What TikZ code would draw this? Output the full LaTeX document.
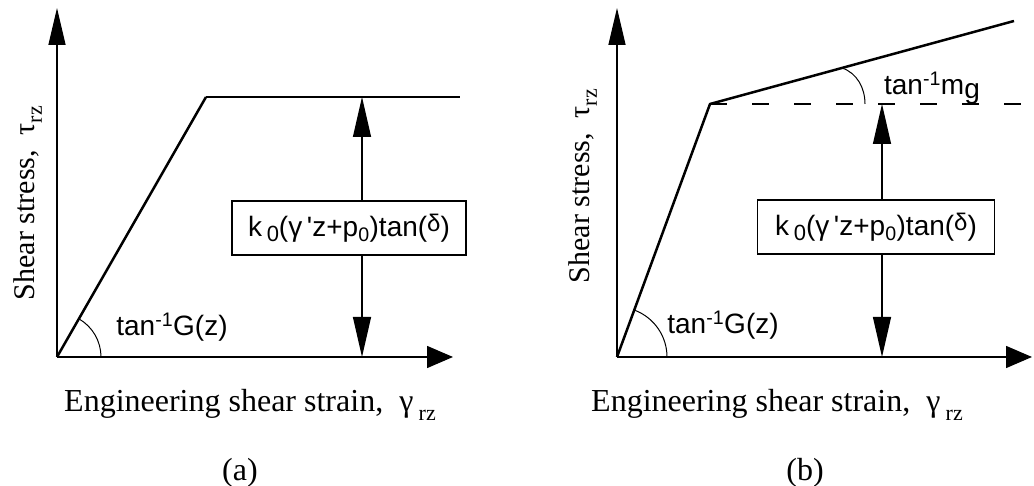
\documentclass[tikz,border=0pt]{standalone}
\usepackage{fontspec}
\setmainfont{Liberation Serif}
\newfontfamily\boxfont{Liberation Sans}
\usetikzlibrary{arrows.meta}

\begin{document}
\begin{tikzpicture}[x=1pt, y=1pt, >={Triangle[length=37pt, width=17pt]},
    axis/.style={line width=1.5pt},
    law/.style={line width=2.5pt, line join=round},
    valbox/.style={draw, line width=1.4pt, minimum height=54pt, inner sep=0pt,
      font=\boxfont\fontsize{28}{32}\selectfont},
    dim/.style={line width=1.3pt, -{Triangle[length=40pt, width=18pt]}},
    xtip/.style={-{Triangle[length=26pt, width=22pt]}},
    lbl/.style={font=\fontsize{32}{36}\selectfont},
    ylbl/.style={rotate=90, font=\fontsize{30}{34}\selectfont},
    ang/.style={font=\boxfont\fontsize{28}{32}\selectfont}]
    \useasboundingbox (0,0) rectangle (1034,486);

    % (a) elastic - perfectly plastic
    \coordinate (Oa) at (57,129);
    \coordinate (Ya) at (57,478);
    \coordinate (Xa) at (453,129);
    \coordinate (Ka) at (206,389);
    \coordinate (Ea) at (460,389);
    \coordinate (Ta) at (362,389);
    \coordinate (Ba) at (362,129);

    % axes
    \draw[axis, ->] (Oa) -- (Ya);
    \draw[axis, xtip] (Oa) -- (Xa);

    % stress-strain law
    \draw[law] (Oa) -- (Ka);
    \draw[line width=1.8pt] (Ka) -- (Ea);

    % yield stress
    \node[valbox, minimum width=234pt] (boxa) at (349,258)
      {k\,\raisebox{-0.35ex}{\fontsize{22}{22}\selectfont 0}(γ\,'z+p\textsubscript{0})tan(\raisebox{0.3ex}{\fontsize{24}{24}\selectfont δ})};
    \draw[dim] (boxa.north -| Ta) -- (Ta);
    \draw[dim] (boxa.south -| Ba) -- (Ba);

    % initial slope
    \draw[line width=1pt] (Oa) ++(44,0) arc[start angle=0, end angle=60, radius=44];
    \node[ang] (ga) at (172,159) {tan\textsuperscript{-1}G(z)};

    % labels
    \node[ylbl] (ya) at (28,283)
      {Shear stress, \ τ\raisebox{-0.5ex}{\fontsize{22}{22}\selectfont rz}};
    \node[lbl] (xa) at (250,81)
      {Engineering shear strain, \ γ\,\raisebox{-0.6ex}{\fontsize{22}{22}\selectfont rz}};
    \node[lbl] (capa) at (240,13) {(a)};

    % (b) elastic - hardening
    \coordinate (Ob) at (617,129);
    \coordinate (Yb) at (617,478);
    \coordinate (Xb) at (1032,129);
    \coordinate (Kb) at (710,382);
    \coordinate (Eb) at (1014,465);
    \coordinate (Db) at (1023,382);
    \coordinate (Tb) at (882,382);
    \coordinate (Bb) at (882,129);

    % axes
    \draw[axis, ->] (Ob) -- (Yb);
    \draw[axis, xtip] (Ob) -- (Xb);

    % stress-strain law
    \draw[law] (Ob) -- (Kb) -- (Eb);
    \draw[line width=1.3pt, dash pattern=on 17pt off 25pt] (Kb) -- (Db);

    % yield stress
    \node[valbox, minimum width=237pt] (boxb) at (876,259)
      {k\,\raisebox{-0.35ex}{\fontsize{22}{22}\selectfont 0}(γ\,'z+p\textsubscript{0})tan(\raisebox{0.3ex}{\fontsize{24}{24}\selectfont δ})};
    \draw[dim] (boxb.north -| Tb) -- (Tb);
    \draw[dim] (boxb.south -| Bb) -- (Bb);

    % slopes
    \draw[line width=1pt] (Ob) ++(50,0) arc[start angle=0, end angle=69, radius=50];
    \node[ang] (gb) at (723,161) {tan\textsuperscript{-1}G(z)};
    \draw[line width=1pt] (842,418) .. controls (857,413) and (865,398) .. (865,382);
    \node[ang] (mb) at (932,398) {tan\textsuperscript{-1}m\raisebox{-0.25ex}{g}};

    % labels
    \node[ylbl] (yb) at (583,300)
      {Shear stress, \ τ\raisebox{-0.5ex}{\fontsize{22}{22}\selectfont rz}};
    \node[lbl] (xb) at (777,81)
      {Engineering shear strain, \ γ\,\raisebox{-0.6ex}{\fontsize{22}{22}\selectfont rz}};
    \node[lbl] (capb) at (805,13) {(b)};
\end{tikzpicture}
\end{document}
